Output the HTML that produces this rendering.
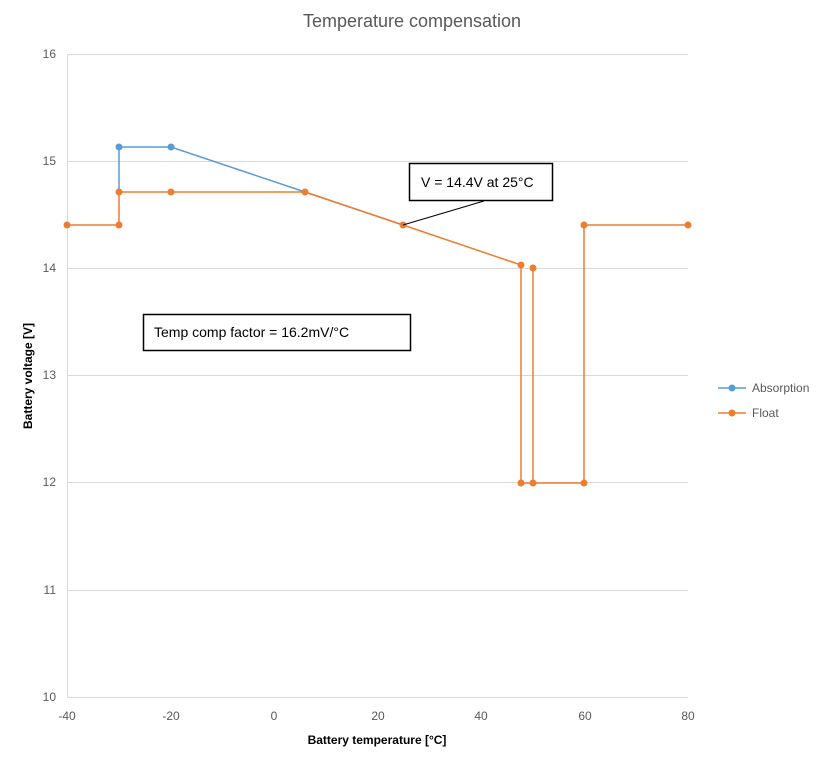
<!DOCTYPE html>
<html><head><meta charset="utf-8"><style>body{margin:0;background:#fff}svg{display:block}text{font-family:"Liberation Sans",sans-serif}</style></head><body>
<svg width="823" height="760" viewBox="0 0 823 760">
<rect width="823" height="760" fill="#fff"/>
<text x="412" y="27" font-size="18" fill="#595959" text-anchor="middle">Temperature compensation</text>
<g stroke="#d9d9d9" stroke-width="1">
<line x1="67" y1="54.5" x2="688" y2="54.5"/>
<line x1="67" y1="161.5" x2="688" y2="161.5"/>
<line x1="67" y1="268.5" x2="688" y2="268.5"/>
<line x1="67" y1="375.5" x2="688" y2="375.5"/>
<line x1="67" y1="482.5" x2="688" y2="482.5"/>
<line x1="67" y1="590.5" x2="688" y2="590.5"/>
<line x1="67" y1="697.5" x2="688" y2="697.5"/>
<line x1="67.5" y1="54" x2="67.5" y2="697"/>
</g>
<g font-size="12" fill="#595959" text-anchor="end">
<text x="56" y="58">16</text><text x="56" y="165">15</text><text x="56" y="272">14</text>
<text x="56" y="379">13</text><text x="56" y="486">12</text><text x="56" y="594">11</text><text x="56" y="701">10</text>
</g>
<g font-size="12" fill="#595959" text-anchor="middle">
<text x="67" y="720">-40</text><text x="171" y="720">-20</text><text x="274" y="720">0</text>
<text x="378" y="720">20</text><text x="481" y="720">40</text><text x="585" y="720">60</text><text x="688" y="720">80</text>
</g>
<text x="377" y="744" font-size="12" font-weight="bold" text-anchor="middle">Battery temperature [°C]</text>
<text transform="translate(32,376) rotate(-90)" font-size="12" font-weight="bold" text-anchor="middle">Battery voltage [V]</text>
<polyline fill="none" stroke="#5b9bd5" stroke-width="1.5" points="119,192 119,147 171,147 305,192 403,225"/>
<g fill="#5b9bd5"><circle cx="119" cy="147" r="3.5"/><circle cx="171" cy="147" r="3.5"/></g>
<polyline fill="none" stroke="#ed7d31" stroke-width="1.5" points="67,225 119,225 119,192 171,192 305,192 403,225 521,265 521,483 533,483 533,268 533,483 584,483 584,225 688,225"/>
<g fill="#ed7d31">
<circle cx="67" cy="225" r="3.5"/><circle cx="119" cy="225" r="3.5"/><circle cx="119" cy="192" r="3.5"/><circle cx="171" cy="192" r="3.5"/>
<circle cx="305" cy="192" r="3.5"/><circle cx="403" cy="225" r="3.5"/><circle cx="521" cy="265" r="3.5"/><circle cx="521" cy="483" r="3.5"/>
<circle cx="533" cy="483" r="3.5"/><circle cx="533" cy="268" r="3.5"/><circle cx="584" cy="483" r="3.5"/><circle cx="584" cy="225" r="3.5"/><circle cx="688" cy="225" r="3.5"/>
</g>
<line x1="403" y1="225" x2="484" y2="201" stroke="#000" stroke-width="1"/>
<rect x="409.5" y="163.5" width="143" height="37" fill="#fff" stroke="#000" stroke-width="1.5"/>
<text x="421" y="187" font-size="14">V = 14.4V at 25°C</text>
<rect x="143.5" y="314.5" width="267" height="36" fill="#fff" stroke="#000" stroke-width="1.5"/>
<text x="154" y="337" font-size="14">Temp comp factor = 16.2mV/°C</text>
<line x1="718" y1="388" x2="746" y2="388" stroke="#5b9bd5" stroke-width="1.5"/><circle cx="732" cy="388" r="3.5" fill="#5b9bd5"/>
<text x="752" y="392" font-size="12" fill="#595959">Absorption</text>
<line x1="718" y1="413" x2="746" y2="413" stroke="#ed7d31" stroke-width="1.5"/><circle cx="732" cy="413" r="3.5" fill="#ed7d31"/>
<text x="752" y="417" font-size="12" fill="#595959">Float</text>
</svg>
</body></html>
